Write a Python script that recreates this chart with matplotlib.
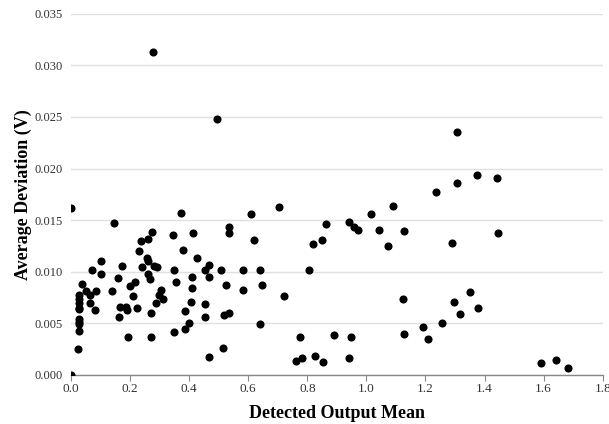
import matplotlib
matplotlib.use("Agg")
import matplotlib.pyplot as plt

plt.rcParams['font.family'] = ['Liberation Serif', 'DejaVu Serif']

x_mean = [0.0, 0.0, 0.146, 0.036,
          0.027, 0.027, 0.027, 0.027, 0.027, 0.027, 0.027, 0.027, 0.027, 0.024,
          0.051, 0.064, 0.086, 0.064, 0.082, 0.072, 0.102, 0.102, 0.139, 0.160,
          0.173, 0.166, 0.164, 0.186, 0.191, 0.193, 0.200, 0.217, 0.209, 0.224,
          0.229, 0.236, 0.240, 0.260, 0.274, 0.257, 0.261, 0.262, 0.267, 0.281,
          0.292, 0.271, 0.272, 0.288, 0.299, 0.304, 0.312, 0.346, 0.349, 0.355,
          0.348, 0.371, 0.380, 0.387, 0.387, 0.398, 0.412, 0.410, 0.409, 0.407,
          0.428, 0.455, 0.468, 0.467, 0.454, 0.454, 0.468, 0.507, 0.525, 0.518,
          0.536, 0.514, 0.536, 0.536, 0.581, 0.583, 0.608, 0.621, 0.639, 0.646,
          0.639, 0.703, 0.721, 0.775, 0.762, 0.781, 0.807, 0.818, 0.825, 0.849,
          0.864, 0.854, 0.891, 0.277, 0.493, 1.307, 0.941, 0.958, 0.972, 0.949,
          0.940, 1.016, 1.044, 1.072, 1.090, 1.126, 1.125, 1.126, 1.192, 1.209,
          1.256, 1.235, 1.289, 1.306, 1.297, 1.317, 1.352, 1.379, 1.374, 1.441,
          1.444, 1.591, 1.643, 1.684]

y_dev = [0.0162, 0.0, 0.01472, 0.00882,
         0.00768, 0.00732, 0.00693, 0.0065, 0.00635, 0.00537, 0.00514, 0.00491, 0.00423, 0.0025,
         0.00807, 0.00774, 0.00807, 0.00693, 0.00628, 0.0101, 0.0110, 0.00977, 0.00807, 0.00934,
         0.01058, 0.0066, 0.00557, 0.00654, 0.00628, 0.00364, 0.00855, 0.00898, 0.00758, 0.00644,
         0.0120, 0.01295, 0.01045, 0.01318, 0.01387, 0.01129, 0.0110, 0.00977, 0.00928, 0.01058,
         0.01045, 0.00596, 0.00364, 0.00693, 0.00774, 0.00817, 0.00732, 0.0135, 0.01018, 0.00901,
         0.00413, 0.01572, 0.01207, 0.00615, 0.00445, 0.00504, 0.01377, 0.00947, 0.00836, 0.00703,
         0.01129, 0.01018, 0.01067, 0.00947, 0.00686, 0.00563, 0.00172, 0.0101, 0.00865, 0.00582,
         0.00596, 0.00254, 0.01432, 0.01377, 0.0101, 0.00823, 0.01559, 0.01308, 0.0101, 0.00865,
         0.00494, 0.0163, 0.00765, 0.00367, 0.0013, 0.00156, 0.0101, 0.0127, 0.00182, 0.01308,
         0.01461, 0.00123, 0.00384, 0.03135, 0.02477, 0.02353, 0.0148, 0.01435, 0.01402, 0.00361,
         0.00163, 0.01559, 0.01402, 0.0125, 0.0164, 0.0139, 0.00735, 0.00393, 0.00465, 0.00345,
         0.00504, 0.01773, 0.01279, 0.01855, 0.00706, 0.00586, 0.00797, 0.00644, 0.01934, 0.01904,
         0.0137, 0.0011, 0.0014, 0.00062]

x_ticks = [0.0, 0.2, 0.4, 0.6, 0.8, 1.0, 1.2, 1.4, 1.6, 1.8]
y_ticks = [0.000, 0.005, 0.010, 0.015, 0.020, 0.025, 0.030, 0.035]

fig = plt.figure(figsize=(6.09, 4.24), dpi=100)
ax = fig.add_axes([0.1166, 0.1167, 0.8731, 0.8503])

ax.scatter(x_mean, y_dev, s=34, color='black', linewidths=0, zorder=3)

ax.set_xlim(0, 1.8)
ax.set_ylim(0, 0.035)
ax.set_xticks(x_ticks)
ax.set_xticklabels([f"{t:.1f}" for t in x_ticks])
ax.set_yticks(y_ticks)
ax.set_yticklabels([f"{t:.3f}" for t in y_ticks])

for sp in ['top', 'right', 'left']:
    ax.spines[sp].set_visible(False)
ax.spines['bottom'].set_color('#888888')
ax.spines['bottom'].set_linewidth(1.0)

ax.yaxis.grid(True, color='#e0e0e0', linewidth=1.0)
ax.set_axisbelow(True)
ax.tick_params(axis='y', length=0, pad=6, labelsize=9, labelcolor='#333333')
ax.tick_params(axis='x', length=4, color='#888888', pad=2, labelsize=9.5, labelcolor='#333333')

ax.set_xlabel('Detected Output Mean', fontsize=13, fontweight='bold', labelpad=7)
ax.set_ylabel('Average Deviation (V)', fontsize=13, fontweight='bold', labelpad=2)

fig.savefig('out.png', dpi=100)
